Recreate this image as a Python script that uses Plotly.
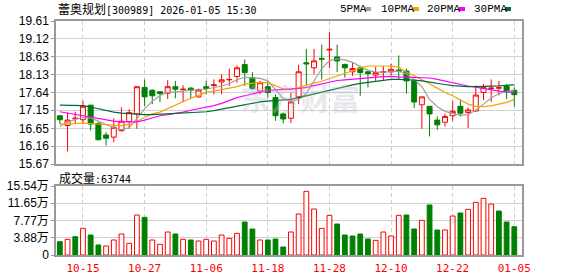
import plotly.graph_objects as go

dates = ["10-10", "10-13", "10-14", "10-15", "10-16", "10-17", "10-20", "10-21", "10-22", "10-23",
         "10-24", "10-27", "10-28", "10-29", "10-30", "10-31", "11-03", "11-04", "11-05", "11-06",
         "11-07", "11-10", "11-11", "11-12", "11-13", "11-14", "11-17", "11-18", "11-19", "11-20",
         "11-21", "11-24", "11-25", "11-26", "11-27", "11-28", "12-01", "12-02", "12-03", "12-04",
         "12-05", "12-08", "12-09", "12-10", "12-11", "12-12", "12-15", "12-16", "12-17", "12-18",
         "12-19", "12-22", "12-23", "12-24", "12-25", "12-26", "12-29", "12-30", "12-31", "01-05"]

opens = [17.00, 16.73, 16.92, 16.89, 17.29, 16.79, 16.47, 16.41, 16.59, 16.84,
         17.05, 17.78, 17.70, 17.66, 17.62, 17.80, 17.72, 17.76, 17.52, 17.80,
         17.83, 17.93, 17.99, 18.08, 18.41, 18.05, 17.68, 17.80, 17.50, 17.05,
         16.93, 17.52, 18.46, 18.32, 18.58, 18.81, 18.62, 18.41, 18.21, 18.32,
         18.21, 18.12, 18.20, 18.21, 18.26, 18.23, 17.96, 17.30, 17.26, 16.88,
         16.82, 17.00, 17.26, 17.09, 17.13, 17.64, 17.75, 17.76, 17.82, 17.70]
highs = [17.02, 17.09, 17.11, 17.41, 17.30, 16.82, 16.55, 16.93, 17.23, 17.18,
         17.81, 18.00, 17.73, 17.68, 17.98, 17.96, 17.84, 17.79, 17.75, 17.96,
         18.00, 18.14, 18.30, 18.39, 18.55, 18.20, 17.96, 17.96, 17.59, 17.09,
         17.64, 18.41, 18.84, 18.84, 18.96, 19.30, 18.96, 18.44, 18.46, 18.37,
         18.23, 18.35, 18.37, 18.43, 18.66, 18.30, 18.00, 17.52, 17.26, 16.98,
         17.06, 17.41, 17.44, 17.23, 17.84, 17.87, 18.00, 17.96, 17.87, 17.78]
lows = [16.77, 16.02, 16.77, 16.77, 16.59, 16.32, 16.18, 16.27, 16.56, 16.64,
        16.64, 17.27, 17.32, 17.38, 17.46, 17.48, 17.37, 17.46, 17.50, 17.59,
        17.59, 17.59, 17.82, 17.91, 17.82, 17.71, 17.59, 17.50, 16.86, 16.79,
        16.80, 17.32, 17.84, 18.14, 18.00, 18.32, 18.20, 18.05, 18.10, 17.55,
        17.78, 17.96, 17.96, 18.10, 18.00, 17.61, 17.21, 16.64, 16.43, 16.61,
        16.70, 16.86, 16.98, 16.66, 17.11, 17.43, 17.38, 17.56, 17.46, 17.25]
closes = [16.89, 16.88, 16.93, 17.26, 16.77, 16.34, 16.38, 16.68, 16.85, 17.09,
          17.80, 17.52, 17.55, 17.61, 17.80, 17.73, 17.73, 17.70, 17.71, 17.75,
          17.85, 17.99, 18.00, 18.32, 18.19, 17.75, 17.91, 17.64, 17.00, 16.91,
          17.38, 18.21, 18.43, 18.51, 18.56, 18.83, 18.51, 18.32, 18.30, 18.19,
          18.16, 18.19, 18.21, 18.28, 18.22, 17.96, 17.38, 17.52, 17.05, 16.75,
          16.98, 17.12, 17.07, 17.16, 17.57, 17.78, 17.76, 17.77, 17.66, 17.58]

ma5 = [16.71, 16.82, 16.90, 16.95, 16.94, 16.85, 16.75, 16.67, 16.62, 16.67,
       16.92, 17.19, 17.40, 17.55, 17.65, 17.65, 17.68, 17.71, 17.73, 17.73,
       17.77, 17.82, 17.88, 17.99, 18.06, 18.05, 18.03, 17.96, 17.73, 17.47,
       17.40, 17.44, 17.62, 17.95, 18.30, 18.52, 18.57, 18.54, 18.47, 18.36,
       18.25, 18.20, 18.20, 18.21, 18.23, 18.15, 18.00, 17.80, 17.45, 17.25,
       17.12, 17.06, 17.01, 17.03, 17.16, 17.32, 17.49, 17.61, 17.67, 17.69]
ma10 = [16.77, 16.77, 16.78, 16.80, 16.79, 16.77, 16.75, 16.74, 16.73, 16.76,
        16.84, 16.96, 17.05, 17.10, 17.20, 17.30, 17.40, 17.48, 17.56, 17.64,
        17.68, 17.72, 17.76, 17.80, 17.87, 17.90, 17.92, 17.91, 17.83, 17.74,
        17.72, 17.78, 17.86, 17.90, 17.95, 18.02, 18.08, 18.15, 18.24, 18.32,
        18.37, 18.37, 18.37, 18.37, 18.34, 18.20, 18.10, 18.00, 17.88, 17.76,
        17.64, 17.55, 17.43, 17.32, 17.26, 17.25, 17.27, 17.31, 17.37, 17.45]
ma20 = [17.11, 17.07, 17.03, 17.00, 16.96, 16.92, 16.88, 16.85, 16.83, 16.82,
        16.83, 16.88, 16.95, 17.00, 17.03, 17.06, 17.10, 17.15, 17.19, 17.23,
        17.28, 17.34, 17.42, 17.50, 17.55, 17.59, 17.65, 17.70, 17.71, 17.71,
        17.72, 17.75, 17.78, 17.83, 17.88, 17.94, 17.97, 17.99, 18.01, 18.03,
        18.05, 18.07, 18.08, 18.08, 18.07, 18.05, 18.05, 18.05, 18.04, 18.00,
        17.95, 17.90, 17.86, 17.82, 17.79, 17.75, 17.70, 17.68, 17.66, 17.63]
ma30 = [17.29, 17.29, 17.29, 17.28, 17.24, 17.19, 17.14, 17.10, 17.07, 17.05,
        17.04, 17.03, 17.03, 17.04, 17.05, 17.07, 17.07, 17.08, 17.09, 17.11,
        17.14, 17.18, 17.23, 17.27, 17.31, 17.35, 17.38, 17.40, 17.41, 17.42,
        17.45, 17.50, 17.55, 17.60, 17.65, 17.71, 17.77, 17.81, 17.85, 17.89,
        17.92, 17.95, 17.98, 18.00, 18.00, 18.00, 17.98, 17.96, 17.92, 17.89,
        17.86, 17.83, 17.81, 17.80, 17.80, 17.80, 17.81, 17.82, 17.84, 17.85]

volumes = [3.00, 3.53, 4.12, 6.00, 4.50, 2.25, 2.03, 3.38, 4.73, 2.63,
           9.00, 8.48, 3.38, 2.40, 5.18, 4.73, 3.53, 3.38, 3.15, 3.53,
           3.15, 4.50, 3.75, 4.88, 7.43, 5.85, 3.38, 3.38, 3.60, 1.80,
           5.18, 9.23, 14.34, 10.36, 6.00, 8.93, 6.98, 4.50, 4.28, 4.73,
           3.60, 3.30, 5.18, 4.28, 8.93, 9.00, 5.85, 7.80, 11.26, 5.63,
           5.63, 8.78, 9.46, 10.28, 11.86, 12.76, 11.48, 9.90, 7.43, 6.37]
vol_up = [0, 1, 0, 1, 0, 0, 1, 1, 1, 1,
          1, 0, 1, 1, 1, 0, 1, 0, 1, 1,
          1, 1, 1, 1, 0, 0, 1, 0, 0, 0,
          1, 1, 1, 1, 1, 1, 0, 0, 0, 0,
          0, 1, 1, 1, 1, 0, 0, 1, 0, 0,
          1, 1, 0, 1, 1, 1, 1, 0, 0, 0]

tick_dates = ["10-15", "10-27", "11-06", "11-18", "11-28", "12-10", "12-22", "01-05"]
price_ticks = [15.67, 16.16, 16.65, 17.15, 17.64, 18.13, 18.63, 19.12, 19.61]
vol_ticks = [0, 3.88, 7.77, 11.65, 15.54]
vol_tick_text = ["0", "3.88万", "7.77万", "11.65万", "15.54万"]
ma_names = ["5PMA", "10PMA", "20PMA", "30PMA"]
ma_colors = ["#a0a0a0", "#f5a300", "#ff00ff", "#006b36"]
title_name = "蕾奥规划"
title_rest = "[300989] 2026-01-05 15:30"
vol_label = "成交量:63744"

RED = "#ff0000"
GREEN = "#008000"
W, H = 578, 276
L, R, T, B = 56, 56, 21, 21
PW, PH = W - L - R, H - T - B

def px(x):
    return (x - L) / PW

def py(y):
    return (H - B - y) / PH

x = list(range(len(dates)))
tickvals = [dates.index(d) for d in tick_dates]

fig = go.Figure()

fig.add_trace(go.Candlestick(
    x=x, open=opens, high=highs, low=lows, close=closes,
    increasing=dict(line=dict(color=RED, width=1), fillcolor="#ffffff"),
    decreasing=dict(line=dict(color=GREEN, width=1), fillcolor=GREEN),
    whiskerwidth=0, showlegend=False, xaxis="x", yaxis="y", hoverinfo="skip"))

for vals, col in zip([ma5, ma10, ma20, ma30], ma_colors):
    fig.add_trace(go.Scatter(x=x, y=vals, mode="lines", line=dict(color=col, width=1.2),
                             showlegend=False, xaxis="x", yaxis="y", hoverinfo="skip"))

fig.add_trace(go.Bar(
    x=x, y=volumes, width=0.62,
    marker=dict(color=["#ffffff" if u else GREEN for u in vol_up],
                line=dict(color=[RED if u else GREEN for u in vol_up], width=1)),
    showlegend=False, xaxis="x2", yaxis="y2", hoverinfo="skip"))

grid = "#d0d0d0"
border = "#999999"
xcommon = dict(range=[-0.5, 60], tickmode="array", tickvals=tickvals,
               showgrid=True, gridcolor=grid, griddash="4px,3px", gridwidth=1,
               showline=True, mirror=True, linecolor=border, linewidth=1.5,
               zeroline=False, fixedrange=True, automargin=False)
fig.update_layout(
    width=W, height=H, margin=dict(l=L, r=R, t=T, b=B, autoexpand=False),
    paper_bgcolor="#ffffff", plot_bgcolor="#ffffff",
    boxgap=0.35, boxgroupgap=0,
    xaxis=dict(domain=[0, 1], anchor="y", showticklabels=False, ticks="",
               rangeslider=dict(visible=False), **xcommon),
    xaxis2=dict(domain=[0, 1], anchor="y2", ticktext=tick_dates, ticks="", ticklabelstandoff=2,
                tickfont=dict(family="DejaVu Sans Mono", size=11, color=RED), **xcommon),
    yaxis=dict(domain=[py(164), 1], range=[15.67, 19.61], tickmode="array", tickvals=price_ticks,
               ticktext=[f"{v:.2f}" for v in price_ticks],
               showgrid=True, gridcolor=grid, zeroline=False,
               showline=True, mirror=True, linecolor=border, linewidth=1.5,
               ticks="outside", ticklen=3, tickcolor=border, automargin=False,
               tickfont=dict(family="Liberation Sans", size=12, color="#000"), fixedrange=True),
    yaxis2=dict(domain=[0, py(186)], range=[0, 15.54], tickmode="array", tickvals=vol_ticks,
                ticktext=vol_tick_text, showgrid=True, gridcolor=grid, zeroline=False,
                showline=True, mirror=True, linecolor=border, linewidth=1.5,
                ticks="outside", ticklen=3, tickcolor=border, automargin=False,
                tickfont=dict(family="Liberation Sans, Noto Sans CJK SC", size=12, color="#000"),
                fixedrange=True),
)

ann = []
ann.append(dict(xref="paper", yref="paper", x=px(56), y=py(8.5), xanchor="left", yanchor="middle",
                showarrow=False,
                text=f"<span style='font-family:Noto Sans CJK SC;font-size:12px'>{title_name}</span>{title_rest}",
                font=dict(family="DejaVu Sans Mono", size=10, color="#000")))
ann.append(dict(xref="paper", yref="paper", x=px(57), y=py(177), xanchor="left", yanchor="middle",
                showarrow=False,
                text=f"<span style='font-family:Noto Sans CJK SC;font-size:12px'>{vol_label[:3]}</span>{vol_label[3:]}",
                font=dict(family="DejaVu Sans Mono", size=10, color="#000")))
leg_x = [338, 379, 425, 472]
sq_x = [365, 413, 459, 505]
shapes = []
for name, col, lx, sx in zip(ma_names, ma_colors, leg_x, sq_x):
    ann.append(dict(xref="paper", yref="paper", x=px(lx), y=py(9), xanchor="left", yanchor="middle",
                    showarrow=False, text=name,
                    font=dict(family="Liberation Mono", size=11, color="#000")))
    shapes.append(dict(type="rect", xref="paper", yref="paper", x0=px(sx), x1=px(sx + 6),
                       y0=py(11), y1=py(7), fillcolor=col, line=dict(width=0)))
ann.append(dict(xref="paper", yref="paper", x=px(300), y=py(97), xanchor="center", yanchor="middle",
                showarrow=False, text="<b>东方财富</b>",
                font=dict(family="Noto Sans CJK SC", size=30, color="rgba(190,190,200,0.35)")))
fig.update_layout(annotations=ann, shapes=shapes)

fig.write_html("out.html")
